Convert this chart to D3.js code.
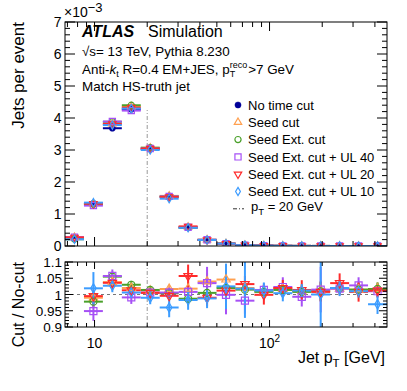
<!DOCTYPE html>
<html><head><meta charset="utf-8">
<script src="https://cdn.jsdelivr.net/npm/d3@7"></script>
<style>body{margin:0;background:#fff}svg{display:block;font-family:"Liberation Sans",Arial,Helvetica,sans-serif}</style>
</head><body><svg id="c" width="407" height="391"></svg>
<script>
// ---------------- data ----------------
const binEdges = [6.78, 8.70, 11.16, 14.32, 18.37, 23.57, 30.24, 38.80, 49.78, 63.87, 81.94, 105.1, 134.9, 173.1, 222.0, 284.9, 365.5, 469.0];
// No time cut, jets per event (x 1e-3)
const noCut = [0.24, 1.33, 3.68, 4.27, 3.03, 1.54, 0.58, 0.19, 0.072, 0.026, 0.011, 0.005, 0.0024, 0.0012, 0.0006, 0.0003, 0.00015];
// ratios cut / no-cut
const seedCutRatio = [1.13, 0.990, 1.038, 1.020, 1.012, 1.017, 1.018, 1.040, 1.046, 1.020, 1.010, 1.017, 1.010, 1.012, 1.018, 1.015, 1.017];
const seedExtRatio = [0.88, 0.978, 1.055, 1.030, 1.014, 1.004, 0.987, 1.005, 1.020, 1.015, 1.008, 1.014, 1.008, 1.010, 1.020, 1.015, 1.017];
const ul40Ratio    = [1.15, 0.949, 1.057, 0.991, 1.006, 1.006, 1.008, 1.035, 0.999, 0.981, 1.014, 1.023, 0.993, 1.015, 1.018, 1.028, 1.010];
const ul20Ratio    = [1.12, 0.995, 1.036, 1.013, 1.005, 0.996, 1.057, 0.990, 1.012, 1.032, 0.999, 1.020, 1.014, 1.008, 1.035, 1.008, 1.012];
const ul10Ratio    = [0.87, 1.019, 1.027, 1.006, 0.990, 0.960, 0.983, 0.988, 1.025, 1.018, 1.012, 1.004, 1.012, 1.000, 1.020, 1.010, 0.970];
// ratio uncertainties
const seedCutErr = [0.05, 0.02, 0.015, 0.012, 0.010, 0.012, 0.020, 0.025, 0.030, 0.020, 0.020, 0.020, 0.020, 0.030, 0.020, 0.020, 0.020];
const seedExtErr = [0.05, 0.02, 0.015, 0.012, 0.010, 0.012, 0.020, 0.025, 0.030, 0.020, 0.020, 0.020, 0.020, 0.030, 0.020, 0.020, 0.020];
const ul40Err    = [0.05, 0.03, 0.020, 0.020, 0.012, 0.015, 0.020, 0.050, 0.060, 0.040, 0.020, 0.030, 0.030, 0.070, 0.020, 0.025, 0.020];
const ul20Err    = [0.05, 0.02, 0.015, 0.012, 0.010, 0.012, 0.035, 0.025, 0.030, 0.025, 0.030, 0.025, 0.030, 0.030, 0.030, 0.030, 0.020];
const ul10Err    = [0.05, 0.05, 0.020, 0.015, 0.020, 0.030, 0.030, 0.030, 0.070, 0.090, 0.025, 0.025, 0.020, 0.100, 0.025, 0.020, 0.030];
const seriesNames = ["No time cut", "Seed cut", "Seed Ext. cut", "Seed Ext. cut + UL 40", "Seed Ext. cut + UL 20", "Seed Ext. cut + UL 10"];
const yTopTicks = [0, 1, 2, 3, 4, 5, 6, 7];
const yRatioTicks = [0.9, 0.95, 1, 1.05, 1.1];
const yRatioLabels = ["0.9", "0.95", "1", "1.05", "1.1"];
const ptCut = 20;
const ptCutLineTop = 4.25;

// ---------------- layout ----------------
const L = 65, R = 387, T1 = 22, B1 = 246, T2 = 262, B2 = 327;
const FONT = '"Liberation Sans",Arial,Helvetica,sans-serif';
const svg = d3.select("#c");

const x = d3.scaleLog().domain([binEdges[0], binEdges[binEdges.length - 1]]).range([L, R]);
const yT = d3.scaleLinear().domain([0, 7]).range([B1, T1]);
const yR = d3.scaleLinear().domain([0.9, 1.1]).range([B2, T2]);

const bins = noCut.map((v, i) => ({ lo: binEdges[i], hi: binEdges[i + 1], c: Math.sqrt(binEdges[i] * binEdges[i + 1]) }));

const styles = [
  { color: "#000099", sym: d3.symbolCircle, size: 30, fill: true, rot: 0 },
  { color: "#ffa050", sym: d3.symbolTriangle, size: 24, fill: false, rot: 0 },
  { color: "#4aa02a", sym: d3.symbolCircle, size: 30, fill: false, rot: 0 },
  { color: "#a650f5", sym: d3.symbolSquare, size: 38, fill: false, rot: 0 },
  { color: "#ff2a2a", sym: d3.symbolTriangle, size: 24, fill: false, rot: 180 },
  { color: "#3c9cff", sym: d3.symbolDiamond, size: 20, fill: false, rot: 0 }
];
const ratios = [null, seedCutRatio, seedExtRatio, ul40Ratio, ul20Ratio, ul10Ratio];
const errs = [null, seedCutErr, seedExtErr, ul40Err, ul20Err, ul10Err];

const series = seriesNames.map((name, s) => ({
  name, ...styles[s],
  top: noCut.map((v, i) => s === 0 ? v : v * ratios[s][i]),
  ratio: s === 0 ? null : ratios[s],
  err: s === 0 ? null : errs[s]
}));

// clip paths
const defs = svg.append("defs");
defs.append("clipPath").attr("id", "clipTop").append("rect").attr("x", L).attr("y", T1).attr("width", R - L).attr("height", B1 - T1);
defs.append("clipPath").attr("id", "clipRatio").append("rect").attr("x", L).attr("y", T2).attr("width", R - L).attr("height", B2 - T2);

function marker(g, st, cx, cy) {
  g.append("path")
    .attr("d", d3.symbol().type(st.sym).size(st.size)())
    .attr("transform", `translate(${cx},${cy}) rotate(${st.rot})`)
    .attr("fill", st.fill ? st.color : "none")
    .attr("stroke", st.color)
    .attr("stroke-width", st.fill ? 0.5 : 1.2);
}

// ---------------- top panel ----------------
const gTop = svg.append("g").attr("clip-path", "url(#clipTop)");
gTop.append("line")
  .attr("x1", x(ptCut)).attr("x2", x(ptCut))
  .attr("y1", yT(0)).attr("y2", yT(ptCutLineTop))
  .attr("stroke", "#999").attr("stroke-width", 1).attr("stroke-dasharray", "4,2,1,2");

series.forEach(s => {
  const g = gTop.append("g");
  bins.forEach((b, i) => {
    g.append("line").attr("x1", x(b.lo)).attr("x2", x(b.hi))
      .attr("y1", yT(s.top[i])).attr("y2", yT(s.top[i]))
      .attr("stroke", s.color).attr("stroke-width", 2);
  });
});
series.forEach(s => {
  const g = gTop.append("g");
  bins.forEach((b, i) => marker(g, s, x(b.c), yT(s.top[i])));
});

// ---------------- ratio panel ----------------
const gR = svg.append("g").attr("clip-path", "url(#clipRatio)");
gR.append("line").attr("x1", L).attr("x2", R).attr("y1", yR(1)).attr("y2", yR(1))
  .attr("stroke", "#777").attr("stroke-width", 1).attr("stroke-dasharray", "3,3");
gR.append("line").attr("x1", x(ptCut)).attr("x2", x(ptCut)).attr("y1", T2).attr("y2", B2)
  .attr("stroke", "#999").attr("stroke-width", 1).attr("stroke-dasharray", "4,2,1,2");

series.slice(1).forEach(s => {
  const g = gR.append("g");
  bins.forEach((b, i) => {
    const r = s.ratio[i];
    if (r < 0.9 || r > 1.1) return;
    g.append("line").attr("x1", x(b.lo)).attr("x2", x(b.hi)).attr("y1", yR(r)).attr("y2", yR(r))
      .attr("stroke", s.color).attr("stroke-width", 2);
    g.append("line").attr("x1", x(b.c)).attr("x2", x(b.c)).attr("y1", yR(r - s.err[i])).attr("y2", yR(r + s.err[i]))
      .attr("stroke", s.color).attr("stroke-width", 2);
  });
});
series.slice(1).forEach(s => {
  const g = gR.append("g");
  bins.forEach((b, i) => {
    const r = s.ratio[i];
    if (r < 0.9 || r > 1.1) return;
    marker(g, { ...s, size: s.size * 1.3 }, x(b.c), yR(r));
  });
});

// ---------------- frames & ticks ----------------
const axes = svg.append("g").attr("stroke", "#000").attr("stroke-width", 1).attr("fill", "none");
axes.append("rect").attr("x", L).attr("y", T1).attr("width", R - L).attr("height", B1 - T1);
axes.append("rect").attr("x", L).attr("y", T2).attr("width", R - L).attr("height", B2 - T2);

function isDecade(v) { const l = Math.log10(v); return Math.abs(l - Math.round(l)) < 1e-6; }
const xt = x.ticks();
xt.forEach(v => {
  const len = isDecade(v) ? 9 : 5, px = x(v);
  axes.append("line").attr("x1", px).attr("x2", px).attr("y1", B1).attr("y2", B1 - len);
  axes.append("line").attr("x1", px).attr("x2", px).attr("y1", T1).attr("y2", T1 + len);
  const len2 = isDecade(v) ? 7 : 4;
  axes.append("line").attr("x1", px).attr("x2", px).attr("y1", B2).attr("y2", B2 - len2);
  axes.append("line").attr("x1", px).attr("x2", px).attr("y1", T2).attr("y2", T2 + len2);
});
d3.range(0, 7.0001, 0.2).forEach(v => {
  const major = Math.abs(v - Math.round(v)) < 1e-6;
  const len = major ? 10 : 5, py = yT(v);
  axes.append("line").attr("x1", L).attr("x2", L + len).attr("y1", py).attr("y2", py);
  axes.append("line").attr("x1", R).attr("x2", R - len).attr("y1", py).attr("y2", py);
});
d3.range(0.9, 1.1001, 0.01).forEach(v => {
  const major = Math.abs(v * 20 - Math.round(v * 20)) < 1e-6;
  const len = major ? 8 : 4, py = yR(v);
  axes.append("line").attr("x1", L).attr("x2", L + len).attr("y1", py).attr("y2", py);
  axes.append("line").attr("x1", R).attr("x2", R - len).attr("y1", py).attr("y2", py);
});

// ---------------- labels ----------------
const txt = svg.append("g").attr("fill", "#000").style("font-family", FONT);
yTopTicks.forEach(v => {
  txt.append("text").attr("x", 61.5).attr("y", yT(v) + 5).attr("text-anchor", "end").attr("font-size", 14).text(v);
});
yRatioTicks.forEach((v, i) => {
  txt.append("text").attr("x", 62).attr("y", yR(v) + 5).attr("text-anchor", "end").attr("font-size", 13.5).text(yRatioLabels[i]);
});
txt.append("text").attr("x", x(10)).attr("y", 348).attr("text-anchor", "middle").attr("font-size", 14).text("10");
const t100 = txt.append("text").attr("x", x(100)).attr("y", 348).attr("text-anchor", "middle").attr("font-size", 14);
t100.append("tspan").text("10");
t100.append("tspan").attr("dy", -6).attr("font-size", 10).text("2");

const te = txt.append("text").attr("x", 64).attr("y", 16.5).attr("font-size", 14);
te.append("tspan").text("×10");
te.append("tspan").attr("dy", -5).attr("font-size", 13).text("−3");

txt.append("text").attr("transform", `translate(23.5,${T1}) rotate(-90)`).attr("text-anchor", "end").attr("font-size", 17).text("Jets per event");
txt.append("text").attr("transform", `translate(23.5,${T2}) rotate(-90)`).attr("text-anchor", "end").attr("font-size", 16).text("Cut / No-cut");
const xtTitle = txt.append("text").attr("x", 385).attr("y", 363).attr("text-anchor", "end").attr("font-size", 16);
xtTitle.append("tspan").text("Jet p");
xtTitle.append("tspan").attr("dy", 4).attr("font-size", 11.5).text("T");
xtTitle.append("tspan").attr("dy", -4).text(" [GeV]");

const tx0 = 82;
txt.append("text").attr("x", tx0).attr("y", 36.5).attr("font-size", 16).attr("font-weight", "bold").attr("font-style", "italic").text("ATLAS");
txt.append("text").attr("x", 148).attr("y", 36.5).attr("font-size", 16).text("Simulation");
txt.append("text").attr("x", tx0).attr("y", 56).attr("font-size", 13.4).text("√s= 13 TeV, Pythia 8.230");
(function () {
  const y3 = 73.5, fs = 13.4, fsS = 9;
  const t = txt.append("text").attr("x", tx0).attr("y", y3).attr("font-size", fs);
  t.append("tspan").text("Anti-");
  t.append("tspan").attr("font-style", "italic").text("k");
  t.append("tspan").attr("dy", 3).attr("font-size", fsS).text("t");
  t.append("tspan").attr("dy", -3).text(" R=0.4 EM+JES, p");
  const w = t.node().getComputedTextLength();
  const xs = tx0 + w;
  const tT = txt.append("text").attr("x", xs).attr("y", y3 + 3).attr("font-size", fsS).text("T");
  const tr = txt.append("text").attr("x", xs).attr("y", y3 - 5.5).attr("font-size", fsS).text("reco");
  const xe = xs + Math.max(tT.node().getComputedTextLength(), tr.node().getComputedTextLength()) + 1;
  txt.append("text").attr("x", xe).attr("y", y3).attr("font-size", fs).text(">7 GeV");
})();
txt.append("text").attr("x", tx0).attr("y", 90.5).attr("font-size", 13.4).text("Match HS-truth jet");

// ---------------- legend ----------------
const leg = svg.append("g");
const legX = 238, legTextX = 248, legY0 = 105, legDY = 17.3;
series.forEach((s, i) => {
  const cy = legY0 + i * legDY;
  marker(leg, s, legX, cy);
  leg.append("text").attr("x", legTextX).attr("y", cy + 4.7).attr("font-size", 13).style("font-family", FONT).text(s.name);
});
(function () {
  const cy = legY0 + 6 * legDY;
  leg.append("line").attr("x1", 233).attr("x2", 244).attr("y1", cy).attr("y2", cy)
    .attr("stroke", "#333").attr("stroke-width", 1).attr("stroke-dasharray", "4,2,1,2");
  const t = leg.append("text").attr("x", 251).attr("y", cy + 2).attr("font-size", 13).style("font-family", FONT);
  t.append("tspan").text("p");
  t.append("tspan").attr("dy", 4).attr("font-size", 9.5).text("T");
  t.append("tspan").attr("dy", -4).text(" = 20 GeV");
})();
</script>
</body></html>
